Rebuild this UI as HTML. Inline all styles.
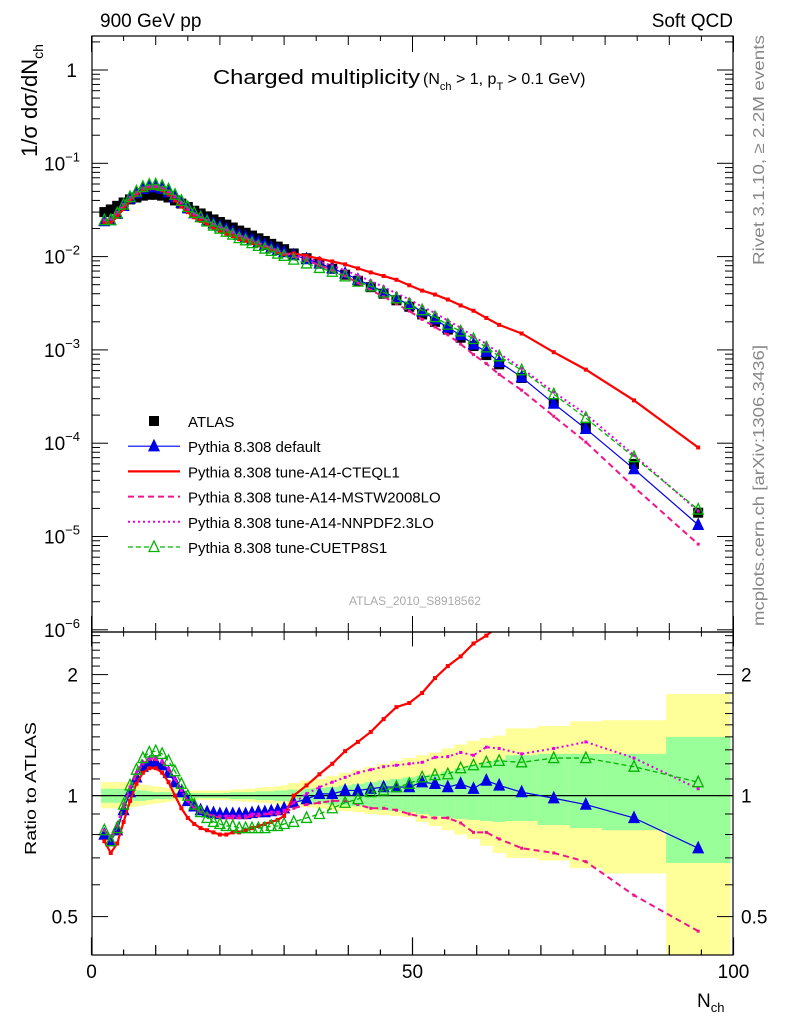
<!DOCTYPE html>
<html><head><meta charset="utf-8"><style>
html,body{margin:0;padding:0;background:#fff;}
svg{display:block;font-family:"Liberation Sans",Arial,sans-serif;}
</style></head><body>
<svg id="chart" width="786" height="1024" viewBox="0 0 786 1024" xmlns="http://www.w3.org/2000/svg">
<text x="100" y="27" font-size="19">900 GeV pp</text>
<text x="733" y="27" font-size="19" text-anchor="end">Soft QCD</text>
<text x="213" y="84" font-size="20" textLength="207" lengthAdjust="spacingAndGlyphs">Charged multiplicity</text>
<text x="423" y="84" font-size="16">(N<tspan font-size="11" dy="6">ch</tspan><tspan dy="-6"> &gt; 1, p</tspan><tspan font-size="11" dy="6">T</tspan><tspan dy="-6"> &gt; 0.1 GeV)</tspan></text>
<text transform="translate(37,157) rotate(-90)" font-size="22">1/σ dσ/dN<tspan font-size="14" dy="6">ch</tspan></text>
<text transform="translate(764,265) rotate(-90)" font-size="16" fill="#888" textLength="230" lengthAdjust="spacingAndGlyphs">Rivet 3.1.10, ≥ 2.2M events</text>
<text transform="translate(764,626) rotate(-90)" font-size="16" fill="#888" textLength="281" lengthAdjust="spacingAndGlyphs">mcplots.cern.ch [arXiv:1306.3436]</text>
<text x="415" y="605" font-size="12" fill="#aaa" text-anchor="middle">ATLAS_2010_S8918562</text>
<text transform="translate(36,855) rotate(-90)" font-size="16" textLength="133" lengthAdjust="spacingAndGlyphs">Ratio to ATLAS</text>
<text x="697" y="1007" font-size="19">N<tspan font-size="13" dy="5">ch</tspan></text>
<defs>
<clipPath id="cm"><rect x="92" y="36" width="641" height="596"/></clipPath>
<clipPath id="cr"><rect x="92" y="632" width="641" height="323"/></clipPath>
</defs>
<g id="bands" clip-path="url(#cr)"></g>
<g id="mainG" clip-path="url(#cm)"></g>
<g id="ratioG" clip-path="url(#cr)"></g>
<g id="axes"></g>
<g id="legend"></g>
</svg>
<script>
const centers=[2,3,4,5,6,7,8,9,10,11,12,13,14,15,16,17,18,19,20,21,22,23,24,25,26,27,28,29,30,
31.5,33.5,35.5,37.5,39.5,41.5,43.5,45.5,47.5,49.5,51.5,53.5,55.5,57.5,59.5,61.5,63.5,67,72,77,84.5,94.5];
const edges=[1.5,2.5,3.5,4.5,5.5,6.5,7.5,8.5,9.5,10.5,11.5,12.5,13.5,14.5,15.5,16.5,17.5,18.5,19.5,20.5,21.5,22.5,23.5,24.5,25.5,26.5,27.5,28.5,29.5,30.5,
32.5,34.5,36.5,38.5,40.5,42.5,44.5,46.5,48.5,50.5,52.5,54.5,56.5,58.5,60.5,62.5,64.5,69.5,74.5,79.5,89.5,99.5];
const atlas=[0.030,0.032,0.035,0.038,0.041,0.043,0.045,0.046,0.046,0.045,0.043,0.040,0.037,0.034,0.031,0.029,0.027,0.025,0.0235,0.022,0.0205,0.019,0.018,0.0168,0.0157,0.0147,0.0137,0.0128,0.012,
0.0108,0.0096,0.0084,0.0074,0.0064,0.0055,0.0047,0.0040,0.0034,0.0029,0.0024,0.0020,0.00165,0.00135,0.0011,0.00088,0.0007,0.0005,0.00027,0.00015,0.00006,0.000018];
const rDefault=[0.80,0.77,0.82,0.92,1.02,1.11,1.18,1.21,1.21,1.19,1.14,1.08,1.02,0.97,0.94,0.92,0.91,0.905,0.90,0.90,0.90,0.90,0.90,0.905,0.91,0.91,0.915,0.92,0.93,
0.96,0.98,1.01,1.01,1.03,1.03,1.04,1.05,1.05,1.05,1.08,1.07,1.05,1.07,1.04,1.09,1.06,1.02,0.985,0.95,0.88,0.74];
const rCTEQ=[0.77,0.72,0.76,0.86,0.97,1.07,1.14,1.17,1.17,1.14,1.08,1.00,0.93,0.88,0.85,0.83,0.82,0.81,0.80,0.80,0.81,0.81,0.82,0.83,0.84,0.85,0.86,0.87,0.89,
1.0,1.06,1.13,1.20,1.29,1.36,1.44,1.55,1.66,1.70,1.80,1.96,2.10,2.22,2.39,2.5,2.65,3.0,3.5,4.1,4.8,5.0];
const rMSTW=[0.82,0.79,0.84,0.94,1.04,1.13,1.20,1.23,1.23,1.21,1.16,1.10,1.03,0.97,0.93,0.91,0.90,0.89,0.88,0.88,0.88,0.88,0.88,0.89,0.89,0.90,0.90,0.90,0.91,
0.93,0.95,0.96,0.97,0.97,0.95,0.93,0.93,0.92,0.90,0.885,0.88,0.88,0.855,0.81,0.81,0.78,0.74,0.72,0.685,0.565,0.46];
const rNNPDF=[0.82,0.79,0.85,0.95,1.05,1.14,1.21,1.24,1.24,1.22,1.17,1.10,1.03,0.97,0.93,0.91,0.90,0.89,0.89,0.89,0.89,0.89,0.89,0.90,0.90,0.90,0.91,0.91,0.92,
0.96,1.01,1.05,1.08,1.11,1.14,1.16,1.18,1.19,1.20,1.21,1.245,1.25,1.28,1.26,1.32,1.31,1.27,1.31,1.36,1.24,1.04];
const rCUETP=[0.82,0.77,0.83,0.95,1.06,1.16,1.24,1.28,1.29,1.27,1.22,1.15,1.07,1.00,0.95,0.91,0.88,0.86,0.85,0.84,0.84,0.83,0.83,0.83,0.83,0.83,0.84,0.84,0.85,
0.86,0.88,0.90,0.93,0.96,0.98,1.02,1.03,1.05,1.07,1.11,1.125,1.13,1.17,1.19,1.21,1.22,1.21,1.24,1.24,1.18,1.08];
const yellowHi=[1.08,1.08,1.08,1.08,1.075,1.07,1.065,1.06,1.055,1.05,1.045,1.04,1.035,1.03,1.03,1.03,1.03,1.03,1.03,1.03,1.035,1.035,1.04,1.04,1.045,1.05,1.05,1.055,1.06,
1.075,1.09,1.10,1.12,1.14,1.16,1.18,1.20,1.22,1.24,1.26,1.28,1.31,1.34,1.37,1.39,1.41,1.47,1.49,1.53,1.54,1.79];
const yellowLo=[0.93,0.93,0.93,0.93,0.935,0.94,0.945,0.95,0.955,0.96,0.965,0.97,0.97,0.975,0.975,0.975,0.975,0.975,0.975,0.975,0.97,0.97,0.965,0.965,0.96,0.96,0.955,0.95,0.95,
0.94,0.935,0.93,0.92,0.915,0.91,0.90,0.895,0.89,0.885,0.86,0.84,0.82,0.80,0.78,0.75,0.72,0.70,0.69,0.66,0.64,0.30];
const greenHi=[1.04,1.04,1.04,1.04,1.035,1.03,1.03,1.025,1.02,1.02,1.02,1.015,1.015,1.015,1.015,1.015,1.015,1.015,1.015,1.015,1.02,1.02,1.02,1.02,1.025,1.025,1.025,1.03,1.03,
1.035,1.04,1.045,1.05,1.06,1.07,1.08,1.09,1.10,1.11,1.12,1.13,1.15,1.17,1.19,1.21,1.23,1.26,1.27,1.27,1.27,1.40];
const greenLo=[0.96,0.96,0.96,0.96,0.965,0.97,0.97,0.975,0.98,0.98,0.98,0.985,0.985,0.985,0.985,0.985,0.985,0.985,0.985,0.985,0.98,0.98,0.98,0.98,0.975,0.975,0.975,0.97,0.97,
0.965,0.96,0.955,0.95,0.945,0.94,0.93,0.92,0.915,0.91,0.90,0.89,0.88,0.875,0.87,0.865,0.86,0.865,0.845,0.83,0.82,0.68];
const mainTickLabels=["1","10","10","10","10","10","10"];
const mainTickExps=["","−1","−2","−3","−4","−5","−6"];
const ratioTicks=[2,1,0.5];
const ratioTickLabels=["2","1","0.5"];
const xTicks=[0,50,100];
const xTickLabels=["0","50","100"];

const NS="http://www.w3.org/2000/svg";
const X=n=>91.5+n*6.42;
const YM=v=>70-Math.log10(v)*93.3;
const YR=r=>795.6-Math.log2(r)*121;
function mk(tag,attrs,parent){const e=document.createElementNS(NS,tag);for(const k in attrs)e.setAttribute(k,attrs[k]);parent.appendChild(e);return e;}
const bands=document.getElementById('bands'),mainG=document.getElementById('mainG'),ratioG=document.getElementById('ratioG'),axes=document.getElementById('axes'),legend=document.getElementById('legend');

for(let i=0;i<centers.length;i++){
  const x0=X(edges[i]),x1=X(edges[i+1]);
  const y=mk('rect',{x:x0,y:YR(yellowHi[i]),width:x1-x0+0.3,height:YR(yellowLo[i])-YR(yellowHi[i]),fill:'#ffff99'},bands);
  
  
  const g=mk('rect',{x:x0,y:YR(greenHi[i]),width:x1-x0+0.3,height:YR(greenLo[i])-YR(greenHi[i]),fill:'#99ff99'},bands);
  
  
}
const one=mk('line',{x1:92,x2:733,y1:YR(1),y2:YR(1),stroke:'#000','stroke-width':1.2},ratioG);



function tri(cx,cy,s,fill,stroke,parent,name){
  const p=mk('polygon',{points:`${cx},${cy-s*0.6} ${cx-s/2},${cy+s*0.45} ${cx+s/2},${cy+s*0.45}`,fill:fill,stroke:stroke,'stroke-width':1.3},parent);
  
  
}
function sq(cx,cy,s,fill,parent,name){
  const r=mk('rect',{x:cx-s/2,y:cy-s/2,width:s,height:s,fill:fill},parent);
  
  
}
const series=[
 {r:rDefault,name:'pythia-default',color:'#0000e6',w:1.2,dash:'',marker:'tri'},
 {r:rCTEQ,name:'pythia-a14-cteql1',color:'#ff0000',w:2.2,dash:'',marker:'sq',ms:4},
 {r:rMSTW,name:'pythia-a14-mstw2008lo',color:'#f0148c',w:2,dash:'6,4',marker:'sq',ms:3},
 {r:rNNPDF,name:'pythia-a14-nnpdf23lo',color:'#e600e6',w:2,dash:'2,3',marker:'sq',ms:3},
 {r:rCUETP,name:'pythia-cuetp8s1',color:'#00b400',w:1.3,dash:'5,3',marker:'otri'}
];
atlas.forEach((v,i)=>{sq(X(centers[i]),YM(v),10,'#000',mainG,'atlas-data-point');});
series.forEach(s=>{
  const mp=centers.map((c,i)=>X(c)+','+YM(atlas[i]*s.r[i])).join(' ');
  const l=mk('polyline',{points:mp,fill:'none',stroke:s.color,'stroke-width':s.w,'stroke-dasharray':s.dash},mainG);
  
  
  const rp=centers.map((c,i)=>X(c)+','+YR(s.r[i])).join(' ');
  const l2=mk('polyline',{points:rp,fill:'none',stroke:s.color,'stroke-width':s.w,'stroke-dasharray':s.dash},ratioG);
  
  
  centers.forEach((c,i)=>{
    const xm=X(c),ym=YM(atlas[i]*s.r[i]),yr=YR(s.r[i]);
    if(s.marker==='tri'){tri(xm,ym,10,s.color,s.color,mainG,s.name+'-point');tri(xm,yr,10,s.color,s.color,ratioG,s.name+'-ratio-point');}
    else if(s.marker==='otri'){tri(xm,ym,10,'none',s.color,mainG,s.name+'-point');tri(xm,yr,10,'none',s.color,ratioG,s.name+'-ratio-point');}
    else {sq(xm,ym,s.ms,s.color,mainG,s.name+'-point');sq(xm,yr,s.ms,s.color,ratioG,s.name+'-ratio-point');}
  });
});

function line(x1,y1,x2,y2,w,name){const l=mk('line',{x1:x1,y1:y1,x2:x2,y2:y2,stroke:'#000','stroke-width':w||1},axes);}
const fm=mk('rect',{x:92,y:36,width:641,height:596,fill:'none',stroke:'#000','stroke-width':1.2},axes);

const fr=mk('rect',{x:92,y:632,width:641,height:323,fill:'none',stroke:'#000','stroke-width':1.2},axes);

for(let n=0;n<=100;n+=5){
  const len=n%50===0?16:(n%10===0?9:5);
  const x=X(n);
  line(x,955,x,955-len*1.1,1.2,'x-tick');
  line(x,632,x,632+len*0.9,1,'x-tick');
  line(x,632,x,632-len,1,'x-tick');
  line(x,36,x,36+len,1,'x-tick');
}
xTicks.forEach((t,i)=>{const e=mk('text',{x:X(t),y:978,'font-size':19,'text-anchor':'middle'},axes);e.textContent=xTickLabels[i];});
for(let d=-6;d<=0;d++){
  for(let m=1;m<=9;m++){
    const v=m*Math.pow(10,d);const y=YM(v);
    if(y<36||y>632)continue;
    const len=m===1?16:8;
    line(92,y,92+len,y,1,'main-y-tick');line(733,y,733-len,y,1,'main-y-tick');
  }
}
mainTickLabels.forEach((t,i)=>{
  const y=YM(Math.pow(10,-i))+7;
  const e=mk('text',{x:i===0?77:62,y:y,'font-size':19,'text-anchor':i===0?'end':'middle'},axes);
  
  if(i===0){e.textContent=t;}else{e.textContent=t;const s=mk('tspan',{'font-size':13,dy:-9},e);s.textContent=mainTickExps[i];}
});
for(let k=4;k<=25;k++){
  const r=k/10;const y=YR(r);if(y<632||y>955)continue;
  const major=(k===5||k===10||k===20);const len=major?16:8;
  line(92,y,92+len,y,1,'ratio-y-tick');line(733,y,733-len,y,1,'ratio-y-tick');
}
ratioTicks.forEach((r,i)=>{
  const e1=mk('text',{x:78,y:YR(r)+7,'font-size':19,'text-anchor':'end'},axes);e1.textContent=ratioTickLabels[i];
  
  const e2=mk('text',{x:741,y:YR(r)+7,'font-size':19},axes);e2.textContent=ratioTickLabels[i];
  
});
const legNames=['ATLAS','Pythia 8.308 default','Pythia 8.308 tune-A14-CTEQL1','Pythia 8.308 tune-A14-MSTW2008LO','Pythia 8.308 tune-A14-NNPDF2.3LO','Pythia 8.308 tune-CUETP8S1'];
legNames.forEach((nm,i)=>{
  const y=421+i*25.2;
  const t=mk('text',{x:188,y:y+6,'font-size':15},legend);t.textContent=nm;
  
  if(i===0){sq(154,y,10,'#000',legend,'legend-atlas-marker');}
  else{
    const s=series[i-1];
    const l=mk('line',{x1:128,x2:180,y1:y,y2:y,stroke:s.color,'stroke-width':s.w,'stroke-dasharray':s.dash},legend);
    
    if(s.marker==='tri')tri(154,y,10,s.color,s.color,legend,'legend-marker');
    if(s.marker==='otri')tri(154,y,10,'#fff',s.color,legend,'legend-marker');
  }
});
</script>
</body></html>
